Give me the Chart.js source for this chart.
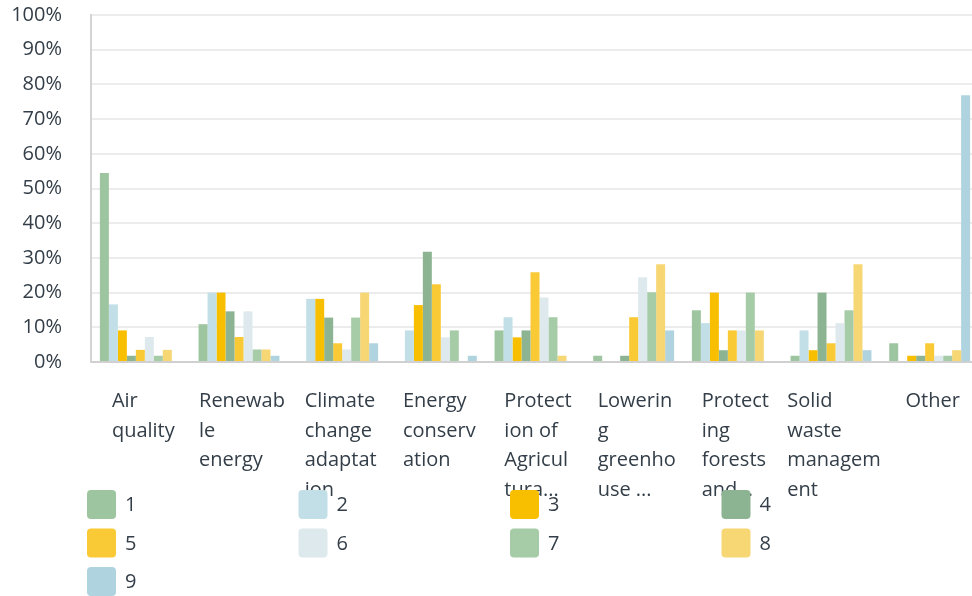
<!DOCTYPE html>
<html>
<head>
<meta charset="utf-8">
<script src="https://cdn.jsdelivr.net/npm/chart.js@4"></script>
<style>
  html, body { margin: 0; padding: 0; background: #fff; overflow: hidden; }
  #wrap { width: 979px; height: 596px; position: relative; }
</style>
</head>
<body>
<div id="wrap"><canvas id="surveyChart"></canvas></div>
<script>
// category labels, already wrapped the way the survey tool shows them
const categories = [
    ['Air', 'quality'],
    ['Renewab', 'le', 'energy'],
    ['Climate', 'change', 'adaptat', 'ion'],
    ['Energy', 'conserv', 'ation'],
    ['Protect', 'ion of', 'Agricul', 'tura...'],
    ['Lowerin', 'g', 'greenho', 'use ...'],
    ['Protect', 'ing', 'forests', 'and...'],
    ['Solid', 'waste', 'managem', 'ent'],
    ['Other']
];

const seriesLabels = ['1', '2', '3', '4', '5', '6', '7', '8', '9'];

// percent of respondents per rank
const rank1 = [54.5, 10.9, 0, 0, 9.1, 1.8, 14.9, 1.8, 5.4];
const rank2 = [16.6, 20.0, 18.2, 9.1, 12.9, 0, 11.2, 9.1, 0];
const rank3 = [9.1, 20.0, 18.2, 16.4, 7.1, 0, 20.0, 3.4, 1.8];
const rank4 = [1.8, 14.6, 12.8, 31.8, 9.1, 1.8, 3.4, 20.0, 1.8];
const rank5 = [3.5, 7.2, 5.4, 22.4, 25.9, 12.9, 9.1, 5.4, 5.4];
const rank6 = [7.2, 14.6, 3.6, 7.1, 18.6, 24.4, 9.1, 11.2, 1.8];
const rank7 = [1.8, 3.6, 12.8, 9.1, 12.9, 20.1, 20.0, 14.9, 1.8];
const rank8 = [3.5, 3.6, 20.0, 0, 1.8, 28.2, 9.1, 28.2, 3.4];
const rank9 = [0, 1.8, 5.4, 1.8, 0, 9.1, 0, 3.4, 76.9];

const yTicks = [0, 10, 20, 30, 40, 50, 60, 70, 80, 90, 100];

const COLORS = ['#9dc59f', '#c2dfe8', '#f8be00', '#8cb493', '#f9ca35', '#dee9ee', '#a6cba7', '#f7d774', '#afd4e0'];
const TEXT_COLOR = '#333e48';
const FONT = '"Open Sans", "Liberation Sans", sans-serif';

const allSeries = [rank1, rank2, rank3, rank4, rank5, rank6, rank7, rank8, rank9];

// --- x labels: left aligned block, centred under each group ---
const categoryLabels = {
    id: 'categoryLabels',
    afterDraw(chart) {
        const { ctx, scales: { x } } = chart;
        ctx.save();
        ctx.font = '20px ' + FONT;
        ctx.fillStyle = TEXT_COLOR;
        ctx.textAlign = 'left';
        ctx.textBaseline = 'alphabetic';
        categories.forEach((lines, i) => {
            const w = Math.max(...lines.map(l => ctx.measureText(l).width));
            const left = x.getPixelForValue(i) - w / 2 + 3;
            lines.forEach((line, j) => {
                ctx.fillText(line, left, x.top + 45 + j * 29.5);
            });
        });
        ctx.restore();
    }
};

// --- legend laid out as a 4 column grid ---
const gridLegend = {
    id: 'gridLegend',
    afterDraw(chart) {
        const { ctx } = chart;
        const colStep = 211.5, rowStep = 38.5, box = 29;
        const left0 = 87, top0 = 490;
        ctx.save();
        ctx.font = '20px ' + FONT;
        ctx.textAlign = 'left';
        ctx.textBaseline = 'middle';
        chart.data.datasets.forEach((ds, i) => {
            const bx = left0 + (i % 4) * colStep;
            const by = top0 + Math.floor(i / 4) * rowStep;
            ctx.fillStyle = ds.backgroundColor;
            ctx.beginPath();
            ctx.roundRect(bx, by, box, box, 4);
            ctx.fill();
            ctx.fillStyle = TEXT_COLOR;
            ctx.fillText(ds.label, bx + 38, by + box / 2 + 1);
        });
        ctx.restore();
    }
};

new Chart(document.getElementById('surveyChart'), {
    type: 'bar',
    data: {
        labels: categories.map(c => c.join(' ')),
        datasets: allSeries.map((vals, i) => ({
            label: seriesLabels[i],
            data: vals,
            backgroundColor: COLORS[i],
            borderWidth: 0,
            barPercentage: 1.0,
            categoryPercentage: 0.82
        }))
    },
    options: {
        responsive: true,
        maintainAspectRatio: false,
        animation: false,
        layout: { padding: { top: 15, right: 0, bottom: 0, left: 0 } },
        plugins: {
            legend: { display: false },
            tooltip: { enabled: false }
        },
        scales: {
            x: {
                grid: { display: false },
                border: { display: true, color: '#d0d0d0', width: 2 },
                ticks: { display: false },
                afterFit(scale) { scale.height = 234; }
            },
            y: {
                min: 0,
                max: 100,
                afterBuildTicks(scale) { scale.ticks = yTicks.map(v => ({ value: v })); },
                grid: { color: '#ececec', lineWidth: 2, drawTicks: false },
                border: { display: true, color: '#d4d4d4', width: 2 },
                ticks: {
                    padding: 29,
                    color: TEXT_COLOR,
                    font: { family: FONT, size: 20 },
                    callback: v => v + '%'
                },
                afterFit(scale) {
                    scale.width = 91;
                    // tick padding is horizontal here, keep it out of the top/bottom room
                    scale.paddingTop = 0;
                    scale.paddingBottom = 0;
                }
            }
        }
    },
    plugins: [categoryLabels, gridLegend]
});
</script>
</body>
</html>
